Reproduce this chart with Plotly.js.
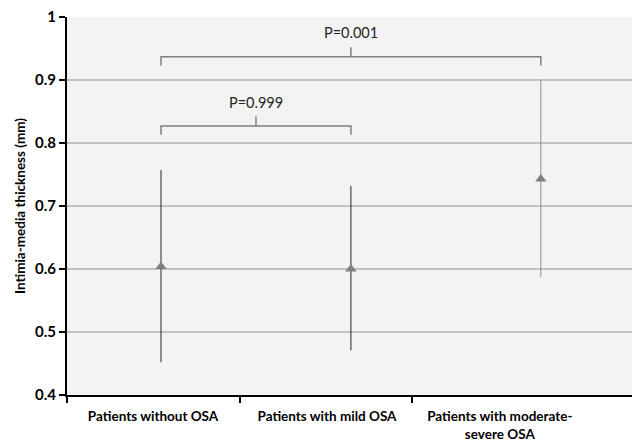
<!DOCTYPE html>
<html>
<head>
<meta charset="utf-8">
<script src="https://cdn.plot.ly/plotly-3.0.1.min.js"></script>
<style>html,body{margin:0;padding:0;background:#fff}#chart{width:632px;height:441px}</style>
</head>
<body>
<div id="chart"></div>
<script>
// Data
const categories = ['Patients without OSA', 'Patients with mild OSA', 'Patients with moderate-<br>severe OSA'];
const means = [0.604, 0.600, 0.743];
const upper = [0.757, 0.732, 0.901];
const lower = [0.452, 0.471, 0.587];
const yTicks = [0.4, 0.5, 0.6, 0.7, 0.8, 0.9, 1];
const yTickText = ['0.4', '0.5', '0.6', '0.7', '0.8', '0.9', '1'];
// significance brackets (category indices) and labels
const bracketFrom = [0, 0];
const bracketTo = [1, 2];
const bracketY = [0.827, 0.937];
const pLabels = ['P=0.999', 'P=0.001'];

const plus = means.map((m, i) => upper[i] - m);
const minus = means.map((m, i) => m - lower[i]);

function errTrace(ids, color) {
  return {
    type: 'scatter', mode: 'markers',
    x: ids, y: ids.map(i => means[i]),
    marker: {symbol: 'triangle-up', size: 10, color: '#808080'},
    error_y: {type: 'data', symmetric: false,
      array: ids.map(i => plus[i]), arrayminus: ids.map(i => minus[i]),
      color: color, thickness: 1, width: 0},
    showlegend: false, hoverinfo: 'skip'
  };
}
const traces = [errTrace([0, 1], '#262626'), errTrace([2], '#8c8c8c')];

const shapes = [];
const annotations = [];
const drop = 0.014, rise = 0.015;
bracketFrom.forEach((a, k) => {
  const b = bracketTo[k], y = bracketY[k], mid = (a + b) / 2;
  shapes.push({type: 'path', xref: 'x', yref: 'y',
    path: `M ${a} ${y - drop} L ${a} ${y} L ${b} ${y} L ${b} ${y - drop}`,
    line: {color: '#7f7f7f', width: 1.5}});
  shapes.push({type: 'line', xref: 'x', yref: 'y', x0: mid, x1: mid, y0: y, y1: y + rise,
    line: {color: '#7f7f7f', width: 1.5}});
  annotations.push({xref: 'x', yref: 'y', x: mid, y: y + rise + 0.006, text: pLabels[k],
    showarrow: false, xanchor: 'center', yanchor: 'bottom',
    font: {family: 'Lato, sans-serif', size: 14.5, color: '#262626'}});
});

// category label centres and boundaries (relative to points)
const labelPos = [-0.042, 0.874, 1.784];
const boundaries = [-0.495, 0.416, 1.321];

const layout = {
  width: 632, height: 441,
  margin: {l: 67, r: 0, t: 17, b: 46},
  paper_bgcolor: '#ffffff', plot_bgcolor: '#f3f3f3',
  font: {family: 'Lato, sans-serif', color: '#000'},
  xaxis: {
    range: [-0.495, 2.48], showgrid: false, zeroline: false,
    showline: true, linecolor: '#000', linewidth: 2,
    tickmode: 'array', tickvals: labelPos, ticktext: categories, ticks: '',
    ticklabelstandoff: 8,
    tickfont: {family: 'Lato, sans-serif', size: 13.5, weight: 'bold', color: '#000'},
    minor: {tickmode: 'array', tickvals: boundaries, ticks: 'outside', ticklen: 6, tickwidth: 1.5, tickcolor: '#000', showgrid: false},
    fixedrange: true
  },
  yaxis: {
    range: [0.4, 1], tickmode: 'array', tickvals: yTicks, ticktext: yTickText,
    showgrid: true, gridcolor: '#c3c3c3', gridwidth: 1.5, zeroline: false,
    showline: true, linecolor: '#000', linewidth: 2,
    ticks: 'outside', ticklen: 6, tickwidth: 1.5, tickcolor: '#000',
    tickfont: {family: 'Lato, sans-serif', size: 15, weight: 'bold', color: '#000'},
    title: {text: 'Intimia-media thickness (mm)', standoff: 6,
      font: {family: 'Lato, sans-serif', size: 13.5, weight: 'bold', color: '#000'}},
    fixedrange: true
  },
  shapes: shapes,
  annotations: annotations
};

Plotly.newPlot('chart', traces, layout, {displayModeBar: false, staticPlot: true});
</script>
</body>
</html>
